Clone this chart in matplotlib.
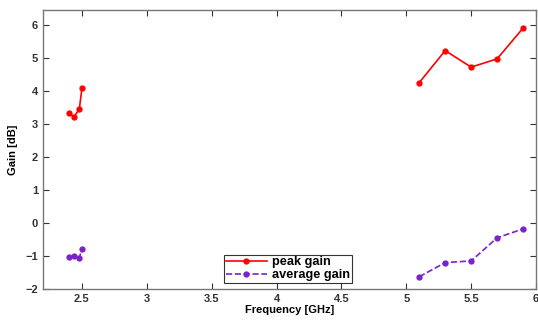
import numpy as np
import matplotlib.pyplot as plt

# frequency bands (GHz)
freq_low = [2.40, 2.44, 2.48, 2.50]
freq_high = [5.1, 5.3, 5.5, 5.7, 5.9]

# gains (dB)
peak_low = [3.32, 3.22, 3.45, 4.08]
peak_high = [4.25, 5.22, 4.72, 4.97, 5.90]
avg_low = [-1.02, -1.00, -1.05, -0.80]
avg_high = [-1.63, -1.20, -1.15, -0.45, -0.18]

plt.rcParams['font.family'] = ['Liberation Sans', 'DejaVu Sans']
plt.rcParams['font.weight'] = 'bold'

fig = plt.figure(figsize=(5.38, 3.2), dpi=100)
ax = fig.add_axes([43/538, 31/320, 493/538, 279/320])

red = '#ff0000'
purple = '#7a22cc'

ax.plot(freq_low, peak_low, '-', color=red, marker='o', ms=3.5, lw=1.2, label='peak gain')
ax.plot(freq_high, peak_high, '-', color=red, marker='o', ms=3.5, lw=1.2)
ax.plot(freq_low, avg_low, '--', color=purple, marker='o', ms=3.5, lw=1.2, label='average gain')
ax.plot(freq_high, avg_high, '--', color=purple, marker='o', ms=3.5, lw=1.2)

ax.set_xlim(2.2, 6)
ax.set_ylim(-2, 6.45)
ax.set_xticks([2.5, 3, 3.5, 4, 4.5, 5, 5.5, 6])
ax.set_xticklabels(['2.5', '3', '3.5', '4', '4.5', '5', '5.5', '6'])
ax.set_yticks(range(-2, 7))
ax.tick_params(direction='in', length=4, labelsize=8, colors='#333333', width=0.8,
               top=True, right=True)
for lab in ax.get_xticklabels() + ax.get_yticklabels():
    lab.set_fontweight('bold')
for s in ax.spines.values():
    s.set_color('#777777')
    s.set_linewidth(1)

ax.set_xlabel('Frequency [GHz]', fontsize=8, fontweight='bold', labelpad=1)
ax.set_ylabel('Gain [dB]', fontsize=8, fontweight='bold', labelpad=5)

leg = ax.legend(loc='lower left', bbox_to_anchor=((224-43)/493, 6/279), fontsize=9.2,
                frameon=True, fancybox=False, edgecolor='black', handlelength=3.2,
                borderpad=0.15, labelspacing=0.05, handletextpad=0.4, borderaxespad=0)
leg.get_frame().set_linewidth(0.8)

fig.savefig('out.png', dpi=100)
